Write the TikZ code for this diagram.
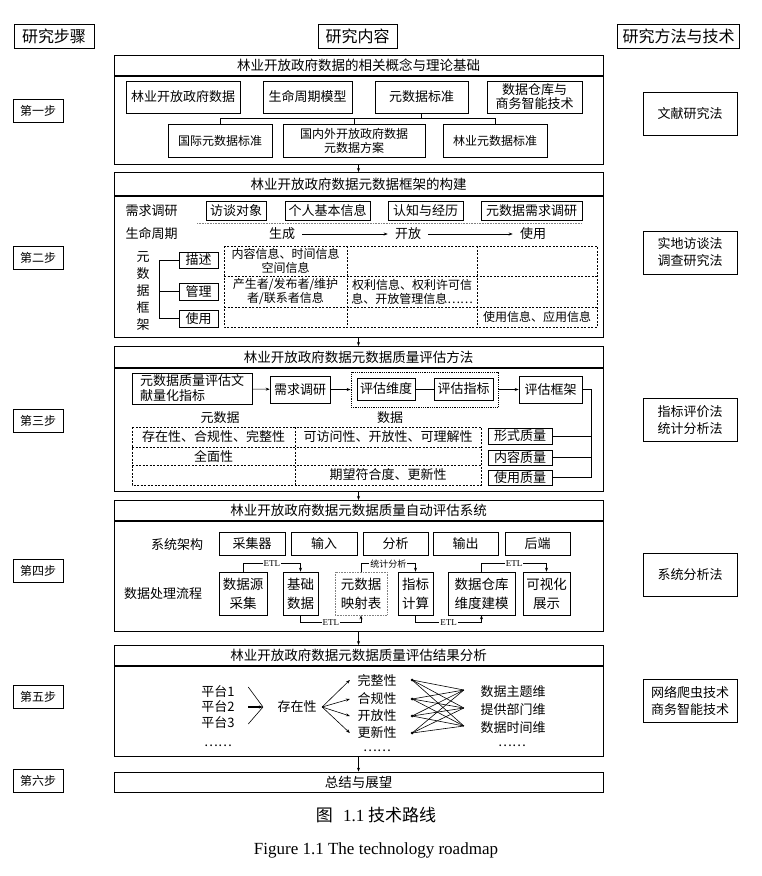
\documentclass[tikz,border=0pt]{standalone}
\usepackage{fontspec}
\setmainfont{Noto Sans CJK SC}
\newfontfamily\latinfont{Liberation Serif}
\usetikzlibrary{arrows.meta,shadows}

\tikzset{
  bx/.style={draw, semithick, fill=white, inner sep=0pt, align=center,
    drop shadow={shadow xshift=.7pt, shadow yshift=-.7pt, fill=black, opacity=1}},
  sec/.style={bx, thick, minimum width=489, font=\fontsize{13.5}{15}\selectfont},
  stepbox/.style={bx, minimum width=50, minimum height=23, font=\fontsize{12}{14}\selectfont},
  method/.style={bx, minimum width=94, minimum height=43, font=\fontsize{13}{17}\selectfont},
  head/.style={bx, minimum height=24, font=\fontsize{16}{18}\selectfont},
  smalltxt/.style={align=center, font=\fontsize{12}{14}\selectfont},
  cellline/.style={dash pattern=on 2pt off 1.5pt},
  flowbox/.style={bx, minimum height=43, font=\fontsize{13.5}{19}\selectfont},
  etl/.style={fill=white, inner sep=1pt, font=\latinfont\fontsize{9}{9}\selectfont},
}

\begin{document}
\begin{tikzpicture}[x=1pt, y=-1pt, semithick, >={Stealth[length=4pt,width=3pt]},
    font=\fontsize{13}{15}\selectfont]
  \useasboundingbox (0,0) rectangle (761,876);

  % column heads
  \node[head, minimum width=80]  (hstep) at (54,36)    {研究步骤};
  \node[head, minimum width=79]  (hcont) at (357.5,36) {研究内容};
  \node[head, minimum width=122] (hmeth) at (678.5,36) {研究方法与技术};

  % steps
  \node[stepbox] (st1) at (38,111) {第一步};
  \node[stepbox] (st2) at (38,258) {第二步};
  \node[stepbox] (st3) at (38,421) {第三步};
  \node[stepbox] (st4) at (38,571) {第四步};
  \node[stepbox] (st5) at (38,697) {第五步};
  \node[stepbox] (st6) at (38,781) {第六步};

  % methods
  \node[method] (way1) at (690,113.5) {文献研究法};
  \node[method] (way2) at (690,252.5) {实地访谈法\\调查研究法};
  \node[method] (way3) at (690,420)   {指标评价法\\统计分析法};
  \node[method] (way4) at (690,575)   {系统分析法};
  \node[method] (way5) at (690,701)   {网络爬虫技术\\商务智能技术};

  % step 1
  \node[sec, minimum height=20, anchor=north] (t1) at (358.5,55) {林业开放政府数据的相关概念与理论基础};
  \node[sec, minimum height=88, anchor=north] (s1) at (t1.south) {};
  \node[bx, minimum width=114, minimum height=32] (lyd) at (183,97)   {林业开放政府数据};
  \node[bx, minimum width=89, minimum height=32]  (smz) at (307.5,97) {生命周期模型};
  \node[bx, minimum width=93, minimum height=32]  (ysj) at (421.5,97) {元数据标准};
  \node[bx, minimum width=95, minimum height=32, font=\fontsize{13}{14}\selectfont] (sjc) at (534.5,97) {数据仓库与\\商务智能技术};
  \node[bx, minimum width=104, minimum height=33, font=\fontsize{12}{14}\selectfont] (gjb) at (220,140.5) {国际元数据标准};
  \node[bx, minimum width=142, minimum height=33, font=\fontsize{12}{14}\selectfont] (gnb) at (354,140.5) {国内外开放政府数据\\元数据方案};
  \node[bx, minimum width=104, minimum height=33, font=\fontsize{12}{14}\selectfont] (lyb) at (495,140.5) {林业元数据标准};
  \draw (ysj.south) -- ++(0,6);
  \draw (gjb.north) -- ++(0,-5) -| (lyb.north);
  \draw (gnb.north) -- ++(0,-5);

  % step 2
  \node[sec, minimum height=23, anchor=north] (t2) at (358.5,172) {林业开放政府数据元数据框架的构建};
  \node[sec, minimum height=141, anchor=north] (s2) at (t2.south) {};
  \node[anchor=west] (req) at (122,211) {需求调研};
  \node[bx, minimum width=60, minimum height=19]  (itv) at (236,210.5)   {访谈对象};
  \node[bx, minimum width=85, minimum height=19]  (per) at (327.5,210.5) {个人基本信息};
  \node[bx, minimum width=75, minimum height=19]  (cog) at (425.5,210.5) {认知与经历};
  \node[bx, minimum width=101, minimum height=19] (mdr) at (531.5,210.5) {元数据需求调研};
  \coordinate (dl) at (197,223);
  \coordinate (dr) at (582,223);
  \draw[gray, densely dotted] (dl) -- (dr);
  \node[anchor=west] (life) at (122,234) {生命周期};
  \node[inner sep=7pt] (gen) at (282,234) {生成};
  \node[inner sep=7pt] (opn) at (408,234) {开放};
  \node[inner sep=7pt] (usg) at (533,234) {使用};
  \draw[->] (gen) -- (opn);
  \draw[->] (opn) -- (usg);
  \draw[cellline] (224,246) rectangle (597,327);
  \foreach \x in {347,477} \draw[cellline] (\x,246) -- (\x,327);
  \foreach \y in {276,307} \draw[cellline] (224,\y) -- (597,\y);
  \node[smalltxt] (c11) at (285.5,261)   {内容信息、时间信息\\空间信息};
  \node[smalltxt] (c21) at (285.5,291.5) {产生者/发布者/维护\\者/联系者信息};
  \node[smalltxt] (c22) at (412,291.5)   {权利信息、权利许可信\\息、开放管理信息……};
  \node[smalltxt] (c33) at (537,317)     {使用信息、应用信息};
  \node[align=center, font=\fontsize{13}{17}\selectfont] (mfw) at (143,291.5) {元\\数\\据\\框\\架};
  \node[bx, minimum width=39, minimum height=16] (dsc) at (198.5,260)   {描述};
  \node[bx, minimum width=39, minimum height=17] (mgt) at (198.5,291.5) {管理};
  \node[bx, minimum width=39, minimum height=17] (use) at (198.5,318.5) {使用};
  \draw (dsc.west) -- ++(-19,0) |- (use.west);
  \draw (mgt.west) -- ++(-19,0);

  % step 3
  \node[sec, minimum height=21, anchor=north] (t3) at (358.5,346) {林业开放政府数据元数据质量评估方法};
  \node[sec, minimum height=123, anchor=north] (s3) at (t3.south) {};
  \node[bx, minimum width=120, minimum height=31, align=left] (lit) at (192,388.5) {元数据质量评估文\\献量化指标};
  \node[bx, minimum width=60, minimum height=27] (rqs) at (300,389.5) {需求调研};
  \node[draw, thick, densely dotted, minimum width=147, minimum height=35] (evf) at (424.5,389.5) {};
  \node[bx, minimum width=58, minimum height=22] (evd) at (386,389)   {评估维度};
  \node[bx, minimum width=59, minimum height=22] (evi) at (463.5,389) {评估指标};
  \node[bx, minimum width=63, minimum height=27] (evk) at (550.5,389.5) {评估框架};
  \draw[->] (lit) -- (rqs);
  \draw[->] (rqs) -- (evf);
  \draw (evd) -- (evi);
  \draw[->] (evf) -- (evk);
  \node (mdl) at (220,418) {元数据};
  \node (dtl) at (390,418) {数据};
  \draw[cellline] (132,427) rectangle (481,485);
  \draw[cellline] (295,427) -- (295,485);
  \foreach \y in {447,465} \draw[cellline] (132,\y) -- (481,\y);
  \node (e11) at (213.5,437) {存在性、合规性、完整性};
  \node (e12) at (388,437)   {可访问性、开放性、可理解性};
  \node (e21) at (213.5,456) {全面性};
  \node (e32) at (388,475)   {期望符合度、更新性};
  \node[bx, minimum width=64, minimum height=16] (fmq) at (520,436)   {形式质量};
  \node[bx, minimum width=64, minimum height=15] (cnq) at (520,457.5) {内容质量};
  \node[bx, minimum width=64, minimum height=15] (usq) at (520,477.5) {使用质量};
  \draw (evk.east) -- ++(9,0) |- (usq.east);
  \draw (fmq.east) -- ++(39,0);
  \draw (cnq.east) -- ++(39,0);

  % step 4
  \node[sec, minimum height=20, anchor=north] (t4) at (358.5,500) {林业开放政府数据元数据质量自动评估系统};
  \node[sec, minimum height=110, anchor=north] (s4) at (t4.south) {};
  \node (arch) at (177,545) {系统架构};
  \node[bx, minimum width=66, minimum height=23] (col)  at (252,543.5)   {采集器};
  \node[bx, minimum width=66, minimum height=23] (inp)  at (324,543.5)   {输入};
  \node[bx, minimum width=65, minimum height=23] (ana)  at (395.5,543.5) {分析};
  \node[bx, minimum width=65, minimum height=23] (outp) at (465.5,543.5) {输出};
  \node[bx, minimum width=65, minimum height=23] (bak)  at (537.5,543.5) {后端};
  \node (flow) at (163,594) {数据处理流程};
  \node[flowbox, minimum width=48] (src) at (243,593.5)   {数据源\\采集};
  \node[flowbox, minimum width=35] (bas) at (300.5,593.5) {基础\\数据};
  \node[draw=gray, densely dotted, fill=white, align=center, inner sep=0pt, minimum width=52,
    minimum height=43, font=\fontsize{13.5}{19}\selectfont] (map) at (361,593.5) {元数据\\映射表};
  \node[flowbox, minimum width=35] (idx) at (415.5,593.5) {指标\\计算};
  \node[flowbox, minimum width=67] (dwh) at (481.5,593.5) {数据仓库\\维度建模};
  \node[flowbox, minimum width=47] (vis) at (546.5,593.5) {可视化\\展示};
  \draw[->] (src.north) -- ++(0,-8) -| node[pos=.25, etl] {ETL} (bas.north);
  \draw[->] (bas.south) -- ++(0,7) -| node[pos=.25, etl] {ETL} (map.south);
  \draw[->] (map.north) -- ++(0,-8) -| node[pos=.25, etl, font=\fontsize{9}{9}\selectfont] {统计分析} (idx.north);
  \draw[->] (idx.south) -- ++(0,7) -| node[pos=.25, etl] {ETL} (dwh.south);
  \draw[->] (dwh.north) -- ++(0,-8) -| node[pos=.25, etl] {ETL} (vis.north);

  % step 5
  \node[sec, minimum height=20, anchor=north] (t5) at (358.5,645) {林业开放政府数据元数据质量评估结果分析};
  \node[sec, minimum height=90, anchor=north] (s5) at (t5.south) {};
  \node (pf1) at (218,692) {平台1};
  \node (pf2) at (218,707) {平台2};
  \node (pf3) at (218,723) {平台3};
  \node (pf4) at (218,746) {……};
  \coordinate (jn) at (263,707);
  \draw ([xshift=10pt,yshift=5pt]pf1.east) -- (jn);
  \draw ([xshift=10pt,yshift=-1pt]pf3.east) -- (jn);
  \draw[very thick, ->] ([xshift=10pt]pf2.east) -- (jn);
  \node (exs) at (297,707) {存在性};
  \node (qa1) at (377,680) {完整性};
  \node (qa2) at (377,699) {合规性};
  \node (qa3) at (377,716) {开放性};
  \node (qa4) at (377,733) {更新性};
  \node[inner sep=0pt] (qa5) at (377,751) {……};
  \foreach \i in {1,...,4} \draw[->] ([xshift=2pt]exs.east) -- ([xshift=-4pt]qa\i.west);
  \node (vw1) at (513,692) {数据主题维};
  \node (vw2) at (513,710) {提供部门维};
  \node (vw3) at (513,728) {数据时间维};
  \node (vw4) at (512,746) {……};
  \foreach \i in {1,...,4} {
    \fill ([xshift=12pt]qa\i.east) circle (1.5);
    \foreach \j in {1,2,3} \draw ([xshift=12pt]qa\i.east) -- ([xshift=-13pt,yshift=2pt]vw\j.west);
  }

  % step 6
  \node[sec, minimum height=20] (t6) at (358.5,782) {总结与展望};

  \draw[->] (s1.south) -- (t2.north);
  \draw[->] (s2.south) -- (t3.north);
  \draw[->] (s3.south) -- (t4.north);
  \draw[->] (s4.south) -- (t5.north);
  \draw[->] (s5.south) -- (t6.north);

  % caption
  \node[font=\fontsize{17}{20}\selectfont] (capzh) at (376,815) {图\hspace{.6em}{\latinfont 1.1} 技术路线};
  \node[font=\latinfont\fontsize{17}{20}\selectfont] (capen) at (376,850) {Figure 1.1 The technology roadmap};
\end{tikzpicture}
\end{document}
